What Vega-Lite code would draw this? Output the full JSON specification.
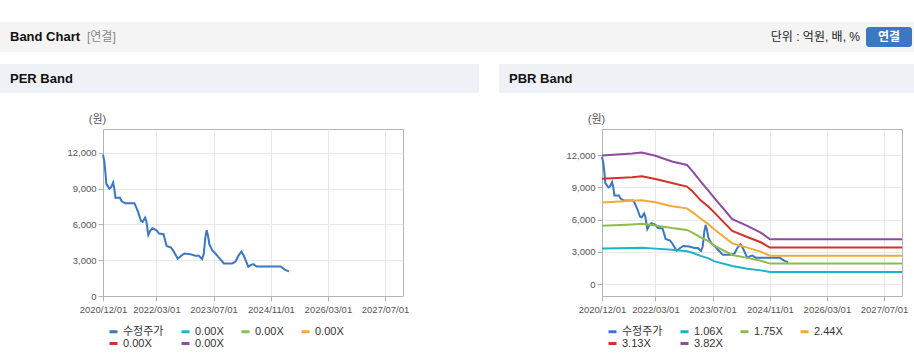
{
  "$schema": "https://vega.github.io/schema/vega-lite/v6.json",
  "background": "white",
  "padding": {"left": 0, "top": 22, "right": 0, "bottom": 0},
  "config": {
    "font": "Liberation Sans, Noto Sans CJK KR, sans-serif",
    "view": {"stroke": null},
    "axis": {"labelFontSize": 9.5, "labelColor": "#555555", "tickColor": "#b4b4b4", "tickSize": 5, "domainColor": "#b4b4b4", "gridColor": "#e8e8e8", "titleFontWeight": "normal", "titleColor": "#555555", "titleFontSize": 11},
    "legend": {"orient": "none", "legendX": 5, "legendY": 197, "direction": "horizontal", "columns": 4, "title": null, "symbolType": "stroke", "symbolStrokeWidth": 3, "symbolSize": 64, "labelFontSize": 11, "labelColor": "#333333", "columnPadding": 11, "rowPadding": -2, "labelOffset": 4, "padding": 0}
  },
  "datasets": {
    "price": [
      {"date": "2020-12-01", "value": 11850}, {"date": "2020-12-12", "value": 11300}, {"date": "2020-12-23", "value": 10200}, {"date": "2020-12-29", "value": 9400},
      {"date": "2021-01-24", "value": 9000}, {"date": "2021-02-08", "value": 9100}, {"date": "2021-02-25", "value": 9500}, {"date": "2021-03-06", "value": 9080},
      {"date": "2021-03-17", "value": 8240}, {"date": "2021-04-24", "value": 8240}, {"date": "2021-05-08", "value": 7960}, {"date": "2021-06-06", "value": 7770},
      {"date": "2021-08-25", "value": 7770}, {"date": "2021-09-05", "value": 7550}, {"date": "2021-09-28", "value": 6990}, {"date": "2021-10-21", "value": 6290},
      {"date": "2021-11-04", "value": 6210}, {"date": "2021-11-25", "value": 6570}, {"date": "2021-12-05", "value": 6290}, {"date": "2021-12-22", "value": 5120},
      {"date": "2022-01-07", "value": 5460}, {"date": "2022-01-26", "value": 5680}, {"date": "2022-03-02", "value": 5510}, {"date": "2022-03-23", "value": 5230},
      {"date": "2022-05-01", "value": 5180}, {"date": "2022-05-27", "value": 4200}, {"date": "2022-07-04", "value": 4060}, {"date": "2022-07-23", "value": 3790},
      {"date": "2022-08-30", "value": 3120}, {"date": "2022-09-28", "value": 3370}, {"date": "2022-10-26", "value": 3560}, {"date": "2022-12-14", "value": 3510},
      {"date": "2023-01-26", "value": 3370}, {"date": "2023-02-26", "value": 3370}, {"date": "2023-03-25", "value": 3090}, {"date": "2023-04-08", "value": 3510},
      {"date": "2023-04-22", "value": 4900}, {"date": "2023-05-03", "value": 5510}, {"date": "2023-05-15", "value": 5040}, {"date": "2023-05-26", "value": 4350},
      {"date": "2023-06-19", "value": 3840}, {"date": "2023-07-17", "value": 3560}, {"date": "2023-08-14", "value": 3230}, {"date": "2023-09-27", "value": 2730},
      {"date": "2023-12-07", "value": 2730}, {"date": "2024-01-05", "value": 2890}, {"date": "2024-01-28", "value": 3370}, {"date": "2024-02-23", "value": 3730},
      {"date": "2024-03-15", "value": 3370}, {"date": "2024-04-22", "value": 2450}, {"date": "2024-05-11", "value": 2590}, {"date": "2024-06-04", "value": 2670},
      {"date": "2024-07-02", "value": 2470}, {"date": "2025-01-24", "value": 2470}, {"date": "2025-02-13", "value": 2310}, {"date": "2025-03-06", "value": 2170},
      {"date": "2025-04-04", "value": 2060}
    ],
    "bands": [
      {"date": "2020-12-01", "series": "1.06X", "value": 3310}, {"date": "2020-12-01", "series": "1.75X", "value": 5430}, {"date": "2020-12-01", "series": "2.44X", "value": 7590}, {"date": "2020-12-01", "series": "3.13X", "value": 9800}, {"date": "2020-12-01", "series": "3.82X", "value": 11950},
      {"date": "2021-08-15", "series": "1.06X", "value": 3370}, {"date": "2021-08-15", "series": "1.75X", "value": 5560}, {"date": "2021-08-15", "series": "2.44X", "value": 7760}, {"date": "2021-08-15", "series": "3.13X", "value": 9950}, {"date": "2021-08-15", "series": "3.82X", "value": 12150},
      {"date": "2021-11-05", "series": "1.06X", "value": 3400}, {"date": "2021-11-05", "series": "1.75X", "value": 5620}, {"date": "2021-11-05", "series": "2.44X", "value": 7810}, {"date": "2021-11-05", "series": "3.13X", "value": 10020}, {"date": "2021-11-05", "series": "3.82X", "value": 12240},
      {"date": "2022-03-01", "series": "1.06X", "value": 3310}, {"date": "2022-03-01", "series": "1.75X", "value": 5460}, {"date": "2022-03-01", "series": "2.44X", "value": 7620}, {"date": "2022-03-01", "series": "3.13X", "value": 9780}, {"date": "2022-03-01", "series": "3.82X", "value": 11930},
      {"date": "2022-07-20", "series": "1.06X", "value": 3200}, {"date": "2022-07-20", "series": "1.75X", "value": 5220}, {"date": "2022-07-20", "series": "2.44X", "value": 7250}, {"date": "2022-07-20", "series": "3.13X", "value": 9400}, {"date": "2022-07-20", "series": "3.82X", "value": 11400},
      {"date": "2022-11-25", "series": "1.06X", "value": 3060}, {"date": "2022-11-25", "series": "1.75X", "value": 5050}, {"date": "2022-11-25", "series": "2.44X", "value": 7050}, {"date": "2022-11-25", "series": "3.13X", "value": 9070}, {"date": "2022-11-25", "series": "3.82X", "value": 11080},
      {"date": "2023-01-10", "series": "1.06X", "value": 2920}, {"date": "2023-01-10", "series": "1.75X", "value": 4800}, {"date": "2023-01-10", "series": "2.44X", "value": 6700}, {"date": "2023-01-10", "series": "3.13X", "value": 8650}, {"date": "2023-01-10", "series": "3.82X", "value": 10500},
      {"date": "2023-03-21", "series": "1.06X", "value": 2640}, {"date": "2023-03-21", "series": "1.75X", "value": 4360}, {"date": "2023-03-21", "series": "2.44X", "value": 6110}, {"date": "2023-03-21", "series": "3.13X", "value": 7790}, {"date": "2023-03-21", "series": "3.82X", "value": 9550},
      {"date": "2023-05-28", "series": "1.06X", "value": 2410}, {"date": "2023-05-28", "series": "1.75X", "value": 4000}, {"date": "2023-05-28", "series": "2.44X", "value": 5560}, {"date": "2023-05-28", "series": "3.13X", "value": 7200}, {"date": "2023-05-28", "series": "3.82X", "value": 8680},
      {"date": "2023-07-12", "series": "1.06X", "value": 2150}, {"date": "2023-07-12", "series": "1.75X", "value": 3600}, {"date": "2023-07-12", "series": "2.44X", "value": 5130}, {"date": "2023-07-12", "series": "3.13X", "value": 6700}, {"date": "2023-07-12", "series": "3.82X", "value": 8060},
      {"date": "2023-12-16", "series": "1.06X", "value": 1690}, {"date": "2023-12-16", "series": "1.75X", "value": 2720}, {"date": "2023-12-16", "series": "2.44X", "value": 3800}, {"date": "2023-12-16", "series": "3.13X", "value": 4960}, {"date": "2023-12-16", "series": "3.82X", "value": 6050},
      {"date": "2024-04-22", "series": "1.06X", "value": 1450}, {"date": "2024-04-22", "series": "1.75X", "value": 2450}, {"date": "2024-04-22", "series": "2.44X", "value": 3400}, {"date": "2024-04-22", "series": "3.13X", "value": 4390}, {"date": "2024-04-22", "series": "3.82X", "value": 5420},
      {"date": "2024-08-14", "series": "1.06X", "value": 1290}, {"date": "2024-08-14", "series": "1.75X", "value": 2185}, {"date": "2024-08-14", "series": "2.44X", "value": 3030}, {"date": "2024-08-14", "series": "3.13X", "value": 3900}, {"date": "2024-08-14", "series": "3.82X", "value": 4800},
      {"date": "2024-11-01", "series": "1.06X", "value": 1145}, {"date": "2024-11-01", "series": "1.75X", "value": 1920}, {"date": "2024-11-01", "series": "2.44X", "value": 2650}, {"date": "2024-11-01", "series": "3.13X", "value": 3410}, {"date": "2024-11-01", "series": "3.82X", "value": 4185},
      {"date": "2027-12-01", "series": "1.06X", "value": 1145}, {"date": "2027-12-01", "series": "1.75X", "value": 1920}, {"date": "2027-12-01", "series": "2.44X", "value": 2650}, {"date": "2027-12-01", "series": "3.13X", "value": 3410}, {"date": "2027-12-01", "series": "3.82X", "value": 4185}
    ]
  },
  "spacing": 12,
  "vconcat": [
    {
      "spacing": 0,
      "hconcat": [
        {
          "width": 866,
          "height": 30,
          "view": {"fill": "#f4f4f4", "stroke": null},
          "layer": [
            {"data": {"values": [{"label": "Band Chart"}]}, "mark": {"type": "text", "align": "left", "dx": 10, "fontSize": 13, "fontWeight": "bold", "fill": "#111111"},
             "encoding": {"x": {"datum": 0, "type": "quantitative", "scale": {"domain": [0, 1]}, "axis": null}, "text": {"field": "label"}}},
            {"data": {"values": [{"label": "[연결]"}]}, "mark": {"type": "text", "align": "left", "dx": 87, "fontSize": 12, "fill": "#888888"},
             "encoding": {"x": {"datum": 0, "type": "quantitative", "scale": {"domain": [0, 1]}, "axis": null}, "text": {"field": "label"}}},
            {"data": {"values": [{"label": "단위 : 억원, 배, %"}]}, "mark": {"type": "text", "align": "right", "dx": -6, "fontSize": 12, "fill": "#222222"},
             "encoding": {"x": {"datum": 1, "type": "quantitative", "scale": {"domain": [0, 1]}, "axis": null}, "text": {"field": "label"}}}
          ]
        },
        {
          "width": 48,
          "height": 30,
          "view": {"fill": "#f4f4f4", "stroke": null},
          "data": {"values": [{"label": "연결"}]},
          "encoding": {
            "x": {"field": "label", "type": "nominal", "scale": {"paddingInner": 0, "paddingOuter": 0.0217, "align": 0}, "axis": null},
            "y": {"field": "label", "type": "nominal", "scale": {"paddingInner": 0, "paddingOuter": 0.25}, "axis": null}
          },
          "layer": [
            {"mark": {"type": "rect", "fill": "#3a78c3", "cornerRadius": 3}},
            {"mark": {"type": "text", "fill": "white", "fontWeight": "bold", "fontSize": 12}, "encoding": {"text": {"field": "label"}}}
          ]
        }
      ]
    },
    {
      "spacing": 20,
      "resolve": {"scale": {"color": "independent"}, "legend": {"color": "independent"}},
      "hconcat": [
        {
          "spacing": 19,
          "resolve": {"scale": {"color": "independent"}, "legend": {"color": "independent"}},
          "vconcat": [
            {
              "width": 479,
              "height": 29,
              "view": {"fill": "#eef2f7", "stroke": null},
              "data": {"values": [{"label": "PER Band"}]},
              "mark": {"type": "text", "align": "left", "dx": 10, "fontSize": 13, "fontWeight": "bold", "fill": "#111111"},
              "encoding": {"x": {"datum": 0, "type": "quantitative", "scale": {"domain": [0, 1]}, "axis": null}, "text": {"field": "label"}}
            },
            {
              "spacing": 0,
              "resolve": {"scale": {"color": "independent"}, "legend": {"color": "independent"}},
              "hconcat": [
                {"width": 1, "height": 1, "data": {"values": []}, "mark": {"type": "point", "opacity": 0}},
                {
                  "width": 300,
                  "height": 167,
                  "view": {"stroke": "#b4b4b4", "fill": "white"},
                  "data": {"name": "price"},
                  "mark": {"type": "line", "strokeWidth": 2},
                  "encoding": {
                    "x": {"field": "date", "type": "temporal",
                      "scale": {"type": "utc", "domain": [{"year": 2020, "month": 12, "date": 1, "utc": true}, {"year": 2027, "month": 12, "date": 1, "utc": true}]},
                      "axis": {"title": null, "format": "%Y/%m/%d", "labelOverlap": false, "labelFlush": false, "labelPadding": 3,
                        "values": [{"year": 2020, "month": 12, "date": 1, "utc": true}, {"year": 2022, "month": 3, "date": 1, "utc": true}, {"year": 2023, "month": 7, "date": 1, "utc": true}, {"year": 2024, "month": 11, "date": 1, "utc": true}, {"year": 2026, "month": 3, "date": 1, "utc": true}, {"year": 2027, "month": 7, "date": 1, "utc": true}]}},
                    "y": {"field": "value", "type": "quantitative",
                      "scale": {"domain": [0, 14000], "nice": false, "zero": false},
                      "axis": {"values": [0, 3000, 6000, 9000, 12000], "format": ",d", "title": "(원)", "titleAngle": 0, "titleAlign": "center", "titleBaseline": "middle", "titleX": -6, "titleY": -10, "minExtent": 101, "labelPadding": 2}},
                    "color": {"datum": "수정주가", "type": "nominal",
                      "scale": {"domain": ["수정주가", "a", "b", "c", "d", "e"], "range": ["#3a78c3", "#1cb4c8", "#8fbb4f", "#f5a936", "#d4312a", "#8f4aa1"]},
                      "legend": {"title": null, "labelExpr": "datum.label == '수정주가' ? datum.label : '0.00X'"}}
                  }
                }
              ]
            }
          ]
        },
        {
          "spacing": 19,
          "resolve": {"scale": {"color": "independent"}, "legend": {"color": "independent"}},
          "vconcat": [
            {
              "width": 415,
              "height": 29,
              "view": {"fill": "#eef2f7", "stroke": null},
              "data": {"values": [{"label": "PBR Band"}]},
              "mark": {"type": "text", "align": "left", "dx": 10, "fontSize": 13, "fontWeight": "bold", "fill": "#111111"},
              "encoding": {"x": {"datum": 0, "type": "quantitative", "scale": {"domain": [0, 1]}, "axis": null}, "text": {"field": "label"}}
            },
            {
              "spacing": 0,
              "resolve": {"scale": {"color": "independent"}, "legend": {"color": "independent"}},
              "hconcat": [
                {"width": 1, "height": 1, "data": {"values": []}, "mark": {"type": "point", "opacity": 0}},
                {
                  "width": 300,
                  "height": 167,
                  "view": {"stroke": "#b4b4b4", "fill": "white"},
                  "encoding": {
                    "x": {"field": "date", "type": "temporal",
                      "scale": {"type": "utc", "domain": [{"year": 2020, "month": 12, "date": 1, "utc": true}, {"year": 2027, "month": 12, "date": 1, "utc": true}]},
                      "axis": {"title": null, "format": "%Y/%m/%d", "labelOverlap": false, "labelFlush": false, "labelPadding": 3,
                        "values": [{"year": 2020, "month": 12, "date": 1, "utc": true}, {"year": 2022, "month": 3, "date": 1, "utc": true}, {"year": 2023, "month": 7, "date": 1, "utc": true}, {"year": 2024, "month": 11, "date": 1, "utc": true}, {"year": 2026, "month": 3, "date": 1, "utc": true}, {"year": 2027, "month": 7, "date": 1, "utc": true}]}},
                    "y": {"field": "value", "type": "quantitative",
                      "scale": {"domain": [-1090, 14420], "nice": false, "zero": false},
                      "axis": {"values": [0, 3000, 6000, 9000, 12000], "format": ",d", "title": "(원)", "titleAngle": 0, "titleAlign": "center", "titleBaseline": "middle", "titleX": -6, "titleY": -10, "minExtent": 101, "labelPadding": 2}}
                  },
                  "layer": [
                    {
                      "data": {"name": "price"},
                      "mark": {"type": "line", "strokeWidth": 2},
                      "encoding": {
                        "color": {"datum": "수정주가", "type": "nominal",
                          "scale": {"domain": ["수정주가", "1.06X", "1.75X", "2.44X", "3.13X", "3.82X"], "range": ["#3a78c3", "#1cb4c8", "#8fbb4f", "#f5a936", "#d4312a", "#8f4aa1"]},
                          "legend": {"title": null}}
                      }
                    },
                    {
                      "data": {"name": "bands"},
                      "mark": {"type": "line", "strokeWidth": 2},
                      "encoding": {"color": {"field": "series", "type": "nominal", "title": null, "legend": {"title": null}}}
                    }
                  ]
                }
              ]
            }
          ]
        }
      ]
    }
  ]
}
